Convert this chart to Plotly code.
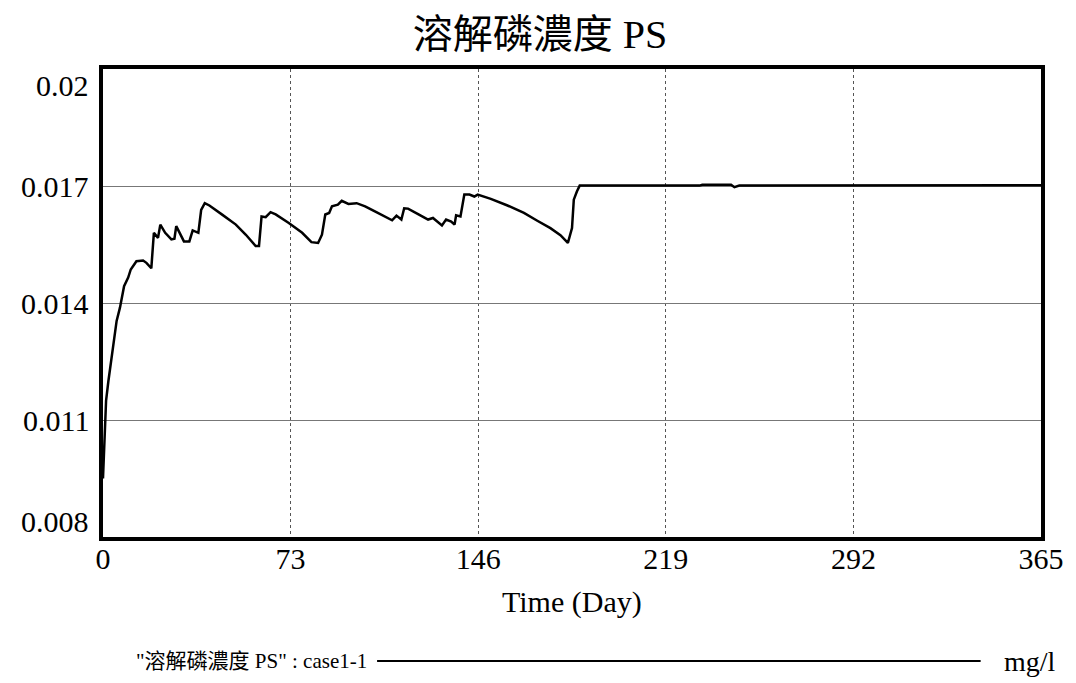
import plotly.graph_objects as go

title_text = "溶解磷濃度 PS"
x_title = "Time (Day)"
legend_label = "\"溶解磷濃度 PS\" : case1-1"
unit_label = "mg/l"

x_ticks = [0, 73, 146, 219, 292, 365]
y_ticks = [0.008, 0.011, 0.014, 0.017, 0.02]
y_tick_text = ["0.008", "0.011", "0.014", "0.017", "0.02"]

days = [0, 1.2, 2.1, 3.4, 5.3, 6.6, 8.2, 9.8, 10.8, 13.0, 15.6, 16.9, 18.8,
        19.8, 21.4, 22.3, 24.2, 26.6, 27.8, 28.5, 29.8, 31.5, 33.6, 34.9,
        37.1, 38.2, 39.6, 41.4, 46.5, 51.7, 55.6, 59.4, 60.7, 61.7, 63.3,
        65.2, 67.2, 72.3, 77.5, 81.1, 83.7, 85.2, 86.5, 88.0, 89.1, 91.4,
        92.9, 95.5, 98.7, 102.0, 105.8, 109.7, 112.5, 114.2, 116.1, 117.2,
        118.7, 122.6, 126.5, 128.4, 131.9, 133.5, 135.5, 136.8, 137.4, 139.1,
        140.6, 142.6, 144.5, 145.8, 150.9, 157.4, 163.8, 169.0, 174.1, 178.0,
        180.9, 182.5, 183.2, 184.4, 185.5, 232.1, 233.2, 244.4, 245.7, 247.6,
        365]
ps = [0.0095, 0.0115, 0.0120, 0.01260, 0.01354, 0.01388, 0.01443, 0.01465,
      0.01486, 0.01507, 0.01509, 0.01503, 0.01489, 0.01580, 0.01567, 0.01601,
      0.01580, 0.01563, 0.01565, 0.01597, 0.01580, 0.01558, 0.01558, 0.01586,
      0.01580, 0.01639, 0.01656, 0.01650, 0.01626, 0.01601, 0.01575, 0.01546,
      0.01546, 0.01622, 0.01620, 0.01633, 0.01627, 0.01605, 0.01580, 0.01556,
      0.01554, 0.01575, 0.01627, 0.01631, 0.01648, 0.01652, 0.01662, 0.01654,
      0.01656, 0.01648, 0.01635, 0.01622, 0.01612, 0.01624, 0.01614, 0.01643,
      0.01642, 0.01628, 0.01614, 0.01618, 0.01599, 0.01614, 0.01609, 0.01601,
      0.01625, 0.01622, 0.01678, 0.01678, 0.01673, 0.01678, 0.01667, 0.01650,
      0.01631, 0.01611, 0.01592, 0.01574, 0.01554, 0.01592, 0.01665, 0.01686,
      0.01701, 0.01701, 0.01703, 0.01703, 0.01697, 0.01701, 0.01702]

serif = "Liberation Serif, Times New Roman, Noto Sans CJK TC, serif"

fig = go.Figure()
fig.add_trace(go.Scatter(x=days, y=ps, mode="lines",
                         line=dict(color="black", width=2.5),
                         showlegend=False, hoverinfo="skip"))

fig.update_layout(
    width=1076, height=683,
    margin=dict(l=103, r=25, t=69, b=146),
    paper_bgcolor="white", plot_bgcolor="white",
    font=dict(family=serif, color="black", size=30),
    title=dict(text=title_text, x=540 / 1076, xanchor="center",
               y=1 - 34 / 683, yanchor="middle", yref="container",
               font=dict(family=serif, size=40, color="black")),
    showlegend=False,
)
fig.update_xaxes(range=[0, 365], tickvals=x_ticks, ticktext=[str(v) for v in x_ticks],
                 showline=True, mirror=True, linewidth=4, linecolor="black",
                 showgrid=True, gridcolor="#555", gridwidth=1, griddash="dot",
                 zeroline=False, ticks="", ticklabelstandoff=-8,
                 tickfont=dict(family=serif, size=30, color="black"))
fig.update_yaxes(range=[0.008, 0.02], tickvals=y_ticks, showticklabels=False,
                 showline=True, mirror=True, linewidth=4, linecolor="black",
                 showgrid=True, gridcolor="#777", gridwidth=1, griddash="solid",
                 zeroline=False, ticks="")

# y tick labels: end labels sit just inside the frame, as in the original
for i, (v, t) in enumerate(zip(y_ticks, y_tick_text)):
    shift = 0
    if i == 0:
        shift = 16
    elif i == len(y_ticks) - 1:
        shift = -16
    fig.add_annotation(text=t, xref="paper", yref="y", x=0, y=v,
                       xanchor="right", yanchor="middle", xshift=-12, yshift=shift,
                       showarrow=False, font=dict(family=serif, size=30, color="black"))

fig.add_annotation(text=x_title, xref="paper", yref="paper", x=0.5, y=(537 - 602) / 468,
                   xanchor="center", yanchor="middle", showarrow=False,
                   font=dict(family=serif, size=30, color="black"))
fig.add_annotation(text=legend_label, xref="paper", yref="paper",
                   x=(372 - 103) / 948, y=(537 - 661) / 468,
                   xanchor="right", yanchor="middle", showarrow=False,
                   font=dict(family=serif, size=21, color="black"))
fig.add_annotation(text=unit_label, xref="paper", yref="paper",
                   x=(1012 - 103) / 948, y=(537 - 661) / 468,
                   xanchor="left", yanchor="middle", showarrow=False,
                   font=dict(family=serif, size=28, color="black"))
fig.add_shape(type="line", xref="paper", yref="paper",
              x0=(380 - 103) / 948, x1=(990 - 103) / 948,
              y0=(537 - 661) / 468, y1=(537 - 661) / 468,
              line=dict(color="black", width=2))

fig.write_html("out.html")
